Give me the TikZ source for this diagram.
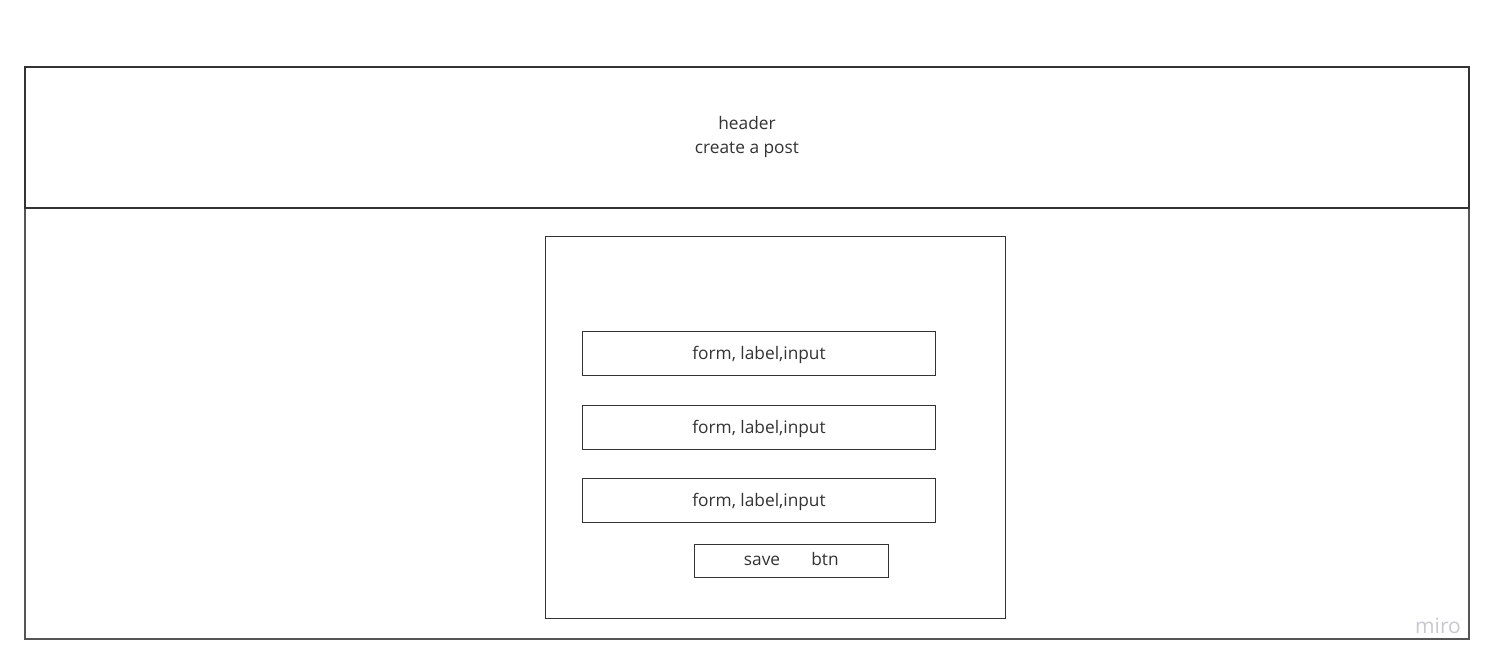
\documentclass[tikz,border=0pt]{standalone}
\usepackage{fontspec}
\setmainfont{Open Sans}
\definecolor{ink}{HTML}{333333}
\definecolor{frame}{HTML}{555555}
\definecolor{mirogray}{HTML}{C8C8D0}
\begin{document}
\begin{tikzpicture}[x=1pt,y=-1pt,
  box/.style={draw=ink,line width=1pt},
  field/.style={box,minimum width=353pt,minimum height=44pt,inner sep=0pt,anchor=north west},
  lbl/.style={text=ink,font=\fontsize{17.3}{24}\selectfont,inner sep=0pt}]
\useasboundingbox (0,0) rectangle (1496,668);
\fill[white] (0,0) rectangle (1496,668);
% body
\draw[draw=frame,line width=1.2pt] (25,67) rectangle (1469,639);
% header
\draw[draw=ink,line width=1.8pt] (25,67) rectangle (1469,208);
\node[lbl,anchor=base] (hdr1) at (747,130) {header};
\node[lbl,anchor=base] (hdr2) at (747,154) {create a post};
% inner card
\draw[box] (545,237) rectangle (1005,618);
\node[field] (f1) at (582,331) {};
\node[field] (f2) at (582,405) {};
\node[field] (f3) at (582,478) {};
\node[lbl,anchor=base] at ([yshift=-6pt]f1.center) {form, label,input};
\node[lbl,anchor=base] at ([yshift=-6pt]f2.center) {form, label,input};
\node[lbl,anchor=base] at ([yshift=-6pt]f3.center) {form, label,input};
\node[box,minimum width=194pt,minimum height=33pt,inner sep=0pt,anchor=north west] (btn) at (694,544) {};
\node[lbl,anchor=base] (save) at (762,565) {save};
\node[lbl,anchor=base] (btntxt) at (825,565) {btn};
\node[text=mirogray,font=\fontsize{21}{24}\selectfont,inner sep=0pt] (miro) at (1438,626) {miro};
\end{tikzpicture}
\end{document}
